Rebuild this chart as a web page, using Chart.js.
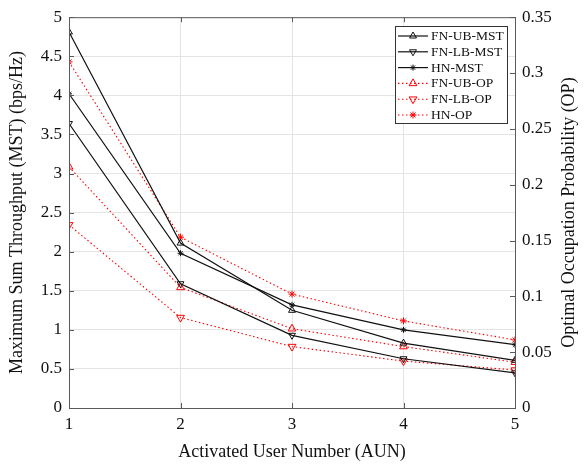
<!DOCTYPE html>
<html>
<head>
<meta charset="utf-8">
<script src="https://cdn.jsdelivr.net/npm/chart.js@4.4.0/dist/chart.umd.min.js"></script>
<style>
    html, body { margin: 0; padding: 0; background: #fff; }
    #wrap { width: 588px; height: 466px; }
</style>
</head>
<body>
<div id="wrap"><canvas id="chart" width="588" height="466"></canvas></div>
<script>
// activated user number (x axis)
const aun = [1, 2, 3, 4, 5];

// left axis: maximum sum throughput (bps/Hz)
const fnUbMst = [4.81, 2.11, 1.25, 0.83, 0.61];
const fnLbMst = [3.64, 1.59, 0.93, 0.63, 0.45];
const hnMst = [4.02, 1.98, 1.32, 1.00, 0.81];

// right axis: optimal occupation probability
const fnUbOp = [0.216, 0.108, 0.071, 0.055, 0.041];
const fnLbOp = [0.164, 0.081, 0.055, 0.042, 0.034];
const hnOp = [0.310, 0.153, 0.102, 0.078, 0.061];

const leftTicks = [0, 0.5, 1, 1.5, 2, 2.5, 3, 3.5, 4, 4.5, 5];
const rightTicks = [0, 0.05, 0.1, 0.15, 0.2, 0.25, 0.3, 0.35];

const rightTitle = 'Optimal Occupation Probability (OP)';

const FONT = "'Liberation Serif', 'Times New Roman', serif";
const AXIS_COLOR = '#5a5a5a';
const GRID_COLOR = '#e4e4e4';

const toPoints = (ys) => aun.map((x, i) => ({ x: x, y: ys[i] }));

const mstSet = (label, data, style, rotation) => ({
    label: label,
    data: toPoints(data),
    yAxisID: 'y',
    borderColor: '#111',
    borderWidth: 1.2,
    pointStyle: style,
    pointRotation: rotation,
    pointRadius: style === 'star' ? 3 : 4,
    pointBorderWidth: 1,
    pointBorderColor: '#111',
    pointBackgroundColor: 'rgba(0,0,0,0)',
    tension: 0,
});

const opSet = (label, data, style, rotation) => ({
    label: label,
    data: toPoints(data),
    yAxisID: 'y1',
    borderColor: '#ff0000',
    borderWidth: 1.1,
    borderDash: [1.5, 2.5],
    pointStyle: style,
    pointRotation: rotation,
    pointRadius: style === 'star' ? 3.5 : 4.5,
    pointBorderWidth: 1,
    pointBorderColor: '#ff0000',
    pointBackgroundColor: 'rgba(0,0,0,0)',
    tension: 0,
});

// box, inward tick marks and the right title (reads bottom to top like matlab)
const boxPlugin = {
    id: 'boxPlugin',
    afterDatasetsDraw(chart) {
        const { ctx, chartArea: a, scales } = chart;
        ctx.save();
        ctx.strokeStyle = AXIS_COLOR;
        ctx.lineWidth = 1;
        ctx.strokeRect(a.left + 0.5, a.top + 0.5, a.right - a.left, a.bottom - a.top);
        ctx.beginPath();
        leftTicks.forEach((v) => {
            const y = Math.round(scales.y.getPixelForValue(v)) + 0.5;
            ctx.moveTo(a.left, y);
            ctx.lineTo(a.left + 5, y);
        });
        rightTicks.forEach((v) => {
            const y = Math.round(scales.y1.getPixelForValue(v)) + 0.5;
            ctx.moveTo(a.right, y);
            ctx.lineTo(a.right - 5, y);
        });
        aun.forEach((v) => {
            const x = Math.round(scales.x.getPixelForValue(v)) + 0.5;
            ctx.moveTo(x, a.bottom);
            ctx.lineTo(x, a.bottom - 5);
            ctx.moveTo(x, a.top);
            ctx.lineTo(x, a.top + 5);
        });
        ctx.stroke();

        ctx.translate(chart.width - 19, (a.top + a.bottom) / 2);
        ctx.rotate(-Math.PI / 2);
        ctx.fillStyle = '#111';
        ctx.font = "18px " + FONT;
        ctx.textAlign = 'center';
        ctx.textBaseline = 'middle';
        ctx.fillText(rightTitle, 0, 0);
        ctx.restore();
    },
};

// legend box drawn in the top right corner with line + marker samples
const legendPlugin = {
    id: 'legendPlugin',
    afterDraw(chart) {
        const { ctx } = chart;
        const bx = 395, by = 26, bw = 112, bh = 97;
        ctx.save();
        ctx.fillStyle = '#fff';
        ctx.fillRect(bx, by, bw, bh);
        ctx.strokeStyle = '#333';
        ctx.lineWidth = 1;
        ctx.strokeRect(bx + 0.5, by + 0.5, bw, bh);

        chart.data.datasets.forEach((ds, i) => {
            const y = by + 10 + i * 15.8;
            ctx.save();
            ctx.strokeStyle = ds.borderColor;
            ctx.lineWidth = ds.borderWidth;
            ctx.setLineDash(ds.borderDash || []);
            ctx.beginPath();
            ctx.moveTo(bx + 3, y);
            ctx.lineTo(bx + 33, y);
            ctx.stroke();
            ctx.setLineDash([]);
            ctx.strokeStyle = ds.pointBorderColor;
            ctx.fillStyle = ds.pointBackgroundColor;
            ctx.lineWidth = ds.pointBorderWidth;
            if (Chart.helpers && Chart.helpers.drawPoint) {
                Chart.helpers.drawPoint(ctx, {
                    pointStyle: ds.pointStyle,
                    rotation: ds.pointRotation || 0,
                    radius: ds.pointRadius,
                    borderWidth: ds.pointBorderWidth,
                }, bx + 18, y);
            }
            ctx.restore();

            ctx.fillStyle = '#111';
            ctx.font = "13.5px " + FONT;
            ctx.textBaseline = 'middle';
            ctx.textAlign = 'left';
            ctx.fillText(ds.label, bx + 36, y + 0.5);
        });
        ctx.restore();
    },
};

new Chart(document.getElementById('chart'), {
    type: 'line',
    data: {
        datasets: [
            mstSet('FN-UB-MST', fnUbMst, 'triangle', 0),
            mstSet('FN-LB-MST', fnLbMst, 'triangle', 180),
            mstSet('HN-MST', hnMst, 'star', 0),
            opSet('FN-UB-OP', fnUbOp, 'triangle', 0),
            opSet('FN-LB-OP', fnLbOp, 'triangle', 180),
            opSet('HN-OP', hnOp, 'star', 0),
        ],
    },
    options: {
        responsive: false,
        animation: false,
        devicePixelRatio: 1,
        layout: { padding: { top: 12, left: 0, right: 0, bottom: 0 } },
        plugins: {
            legend: { display: false },
            tooltip: { enabled: false },
        },
        scales: {
            x: {
                type: 'linear',
                min: 1,
                max: 5,
                afterBuildTicks: (scale) => { scale.ticks = aun.map((v) => ({ value: v })); },
                afterFit: (scale) => { scale.height = 58; },
                ticks: {
                    color: '#111',
                    padding: 6,
                    font: { family: FONT, size: 17 },
                    callback: (v) => String(v),
                },
                grid: { color: GRID_COLOR, drawTicks: false },
                border: { display: false },
                title: {
                    display: true,
                    text: 'Activated User Number (AUN)',
                    color: '#111',
                    font: { family: FONT, size: 18 },
                    padding: { top: 0, bottom: 3 },
                },
            },
            y: {
                position: 'left',
                min: 0,
                max: 5,
                afterBuildTicks: (scale) => { scale.ticks = leftTicks.map((v) => ({ value: v })); },
                afterFit: (scale) => { scale.width = 69; },
                ticks: {
                    color: '#111',
                    padding: 7,
                    font: { family: FONT, size: 17 },
                    callback: (v) => String(v),
                },
                grid: { color: GRID_COLOR, drawTicks: false },
                border: { display: false },
                title: {
                    display: true,
                    text: 'Maximum Sum Throughput (MST) (bps/Hz)',
                    color: '#111',
                    font: { family: FONT, size: 18 },
                    padding: { top: 6, bottom: 0 },
                },
            },
            y1: {
                position: 'right',
                min: 0,
                max: 0.35,
                afterBuildTicks: (scale) => { scale.ticks = rightTicks.map((v) => ({ value: v })); },
                afterFit: (scale) => { scale.width = 73; },
                ticks: {
                    color: '#111',
                    padding: 7,
                    font: { family: FONT, size: 17 },
                    callback: (v) => String(+v.toFixed(2)),
                },
                grid: { display: false, drawTicks: false },
                border: { display: false },
                title: { display: false },
            },
        },
    },
    plugins: [boxPlugin, legendPlugin],
});
</script>
</body>
</html>
